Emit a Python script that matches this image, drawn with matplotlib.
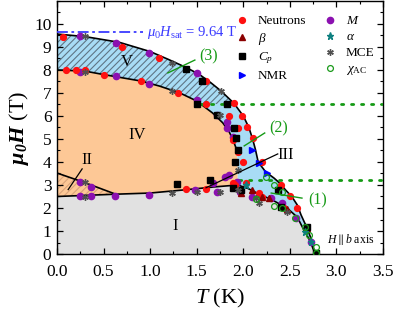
import numpy as np
import matplotlib
matplotlib.use("Agg")
import matplotlib.pyplot as plt
from matplotlib.patches import Polygon, Rectangle

plt.rcParams['font.family'] = ['Liberation Serif', 'DejaVu Serif']
plt.rcParams['mathtext.fontset'] = 'custom'
plt.rcParams['mathtext.rm'] = 'Liberation Serif'
plt.rcParams['mathtext.it'] = 'Liberation Serif:italic'
plt.rcParams['mathtext.bf'] = 'Liberation Serif:bold'
plt.rcParams['mathtext.bfit'] = 'Liberation Serif:bold:italic'
plt.rcParams['hatch.linewidth'] = 0.8

# ---------------- phase boundaries ----------------
sat_T = [0, 0.3, 0.67, 1.0, 1.2, 1.39, 1.53, 1.65, 1.76, 1.9, 2.0, 2.06, 2.1, 2.13, 2.16, 2.24, 2.33, 2.4, 2.45, 2.52, 2.58, 2.62, 2.68, 2.73, 2.77]
sat_H = [9.56, 9.45, 9.2, 8.8, 8.45, 8.1, 7.8, 7.45, 7.09, 6.55, 6.0, 5.5, 5.0, 4.55, 4.0, 3.57, 3.3, 3.05, 2.8, 2.5, 2.13, 1.7, 1.17, 0.65, 0.0]

inner_T = [0, 0.3, 0.5, 0.9, 1.1, 1.32, 1.5, 1.67, 1.78, 1.85, 1.89, 1.93, 1.94, 1.94]
inner_H = [8.0, 7.95, 7.8, 7.52, 7.3, 7.0, 6.65, 6.13, 5.7, 5.3, 4.96, 4.52, 4.0, 3.05]

low_T = [0, 0.63, 1.0, 1.4, 1.7, 1.94, 2.05, 2.17, 2.31, 2.47, 2.58, 2.65, 2.72, 2.77]
low_H = [2.5, 2.6, 2.65, 2.8, 2.92, 3.0, 2.85, 2.6, 2.35, 2.0, 1.6, 1.05, 0.55, 0.0]

ii_T = [0, 0.3, 0.63]
ii_H = [3.52, 3.1, 2.6]

H_sat = 9.64
hatch_level = 6.5
dotted_levels = [6.5, 3.2]
dotted_start = [1.55, 1.95]

# ---------------- data points ----------------
neut_T = [0.06, 0.7, 1.09, 1.3, 0.1, 0.2, 0.3, 0.5, 0.9, 1.6, 1.6, 1.9, 1.99, 1.85, 1.94, 2.04, 1.89, 2.1, 1.94, 2.0, 2.2,
          1.89, 1.91, 2.41, 2.5, 2.44, 1.39, 1.6, 2.17, 2.58, 2.2, 2.03]
neut_H = [9.43, 9.0, 8.5, 7.0, 8.0, 8.0, 8.0, 7.78, 7.52, 7.52, 6.5, 6.55, 6.0, 6.0, 5.48, 5.53, 4.96, 5.04, 4.44, 4.0, 4.0,
          3.08, 3.0, 3.0, 2.52, 2.0, 2.82, 2.83, 2.65, 2.0, 2.48, 3.1]

beta_T = [1.98, 2.09, 2.2, 2.28, 2.47, 2.68]
beta_H = [2.65, 2.78, 2.48, 2.43, 1.96, 1.13]

cp_T = [1.39, 1.56, 1.5, 1.82, 1.72, 1.9, 1.92, 1.94, 1.91, 1.64, 1.89, 1.98, 1.29, 2.37, 2.41, 2.68, 2.78]
cp_H = [8.04, 7.52, 6.52, 6.52, 6.04, 5.48, 5.04, 4.52, 4.0, 3.22, 2.87, 2.78, 3.04, 2.78, 2.04, 1.17, 0.04]

nmr_T = [2.09, 2.17, 2.25]
nmr_H = [4.52, 3.96, 3.52]

m_T = [0.25, 0.63, 0.99, 1.5, 0.25, 0.63, 0.99, 1.5, 1.72, 1.82, 1.83, 1.89, 0.25, 0.37, 0.25, 0.37, 0.62, 0.99,
       1.48, 1.67, 1.72, 1.8, 1.85, 1.93, 1.96, 2.09, 2.3, 2.42, 2.57, 2.73]
m_H = [9.48, 9.17, 8.74, 7.87, 7.9, 7.75, 7.4, 6.7, 6.04, 5.75, 5.48, 5.1, 3.13, 2.9, 2.52, 2.52, 2.52, 2.57,
       2.78, 3.08, 2.7, 3.35, 3.43, 3.13, 2.7, 2.48, 2.43, 2.2, 1.57, 0.52]

alpha_T = [2.03, 2.66, 2.73]
alpha_H = [3.0, 0.96, 0.52]

mce_T = [0.3, 0.3, 1.24, 1.24, 1.76, 1.75, 0.3, 0.3, 1.24, 1.5, 1.75, 1.94, 1.94, 2.17, 2.14, 2.47]
mce_H = [9.48, 7.9, 8.3, 7.09, 7.09, 6.04, 3.13, 2.48, 2.65, 2.7, 2.7, 2.78, 3.65, 2.2, 2.43, 1.83]

chi_T = [2.24, 2.33, 2.42, 2.14, 2.33, 2.42, 2.55, 2.66, 2.71, 2.78, 2.78]
chi_H = [3.35, 3.0, 2.7, 2.39, 2.09, 2.0, 1.57, 1.17, 0.83, 0.3, 0.04]

# ---------------- figure ----------------
fig = plt.figure(figsize=(3.95, 3.10), dpi=100)
ax = fig.add_axes([0.1443, 0.1806, 0.8253, 0.8164])
ax.set_xlim(0, 3.5)
ax.set_ylim(0, 11)

c_gray = '#e1e1e1'
c_orange = '#fdc896'
c_blue = '#a8dcf5'

# region I
polyI = list(zip(low_T, low_H)) + [(low_T[-1], 0), (0, 0)]
ax.add_patch(Polygon(polyI, closed=True, facecolor=c_gray, edgecolor='none', zorder=0))
# region IV (incl. II)
polyIV = list(zip(low_T, low_H))[:6] + list(zip(inner_T, inner_H))[::-1]
ax.add_patch(Polygon(polyIV, closed=True, facecolor=c_orange, edgecolor='none', zorder=0))
# blue region (III + V)
polyB = list(zip(sat_T, sat_H)) + list(zip(low_T, low_H))[::-1][:-5] + list(zip(inner_T, inner_H))[::-1]
ax.add_patch(Polygon(polyB, closed=True, facecolor=c_blue, edgecolor='none', zorder=0))
# hatch V
hV = Polygon(polyB, closed=True, facecolor='none', edgecolor='#5f7585', lw=0, hatch='/////', zorder=1)
ax.add_patch(hV)
clipR = Rectangle((0, hatch_level), 3.5, 11 - hatch_level, transform=ax.transData, visible=False)
ax.add_patch(clipR)
hV.set_clip_path(clipR)
# hatch II
polyII = list(zip(ii_T, ii_H)) + [(low_T[1], low_H[1]), (low_T[0], low_H[0])]
ax.add_patch(Polygon(polyII, closed=True, facecolor='none', edgecolor='#d9a37a', lw=0, hatch='/////', zorder=1))

# boundary lines
lk = dict(color='black', lw=1.2, zorder=3)
ax.plot(sat_T, sat_H, **lk)
ax.plot(inner_T[:12], inner_H[:12], **lk)
ax.plot(low_T, low_H, **lk)
ax.plot(ii_T, ii_H, **lk)

# saturation line
ax.plot([0, 0.92], [H_sat, H_sat], color='#3a3aff', lw=1.3, ls=(0, (6, 2, 1.5, 2)), zorder=3)
ax.text(0.97, H_sat, r'$\mu_0H_{\rm sat}$ = 9.64 T', color='#3a3aff', fontsize=10.5, va='center', ha='left', zorder=5)

# green dotted lines
for lev, st in zip(dotted_levels, dotted_start):
    ax.plot([st, 3.5], [lev, lev], color='#159a15', lw=2.0, ls=(0, (0.8, 2.8)), dash_capstyle='round', zorder=4)

# markers
ms = 4.2
ax.plot(neut_T, neut_H, 'o', color='#ff1010', ms=ms, ls='none', zorder=6, label='Neutrons')
ax.plot(beta_T, beta_H, '^', color='#8b0000', ms=ms, ls='none', zorder=6, label=r'$\beta$')
ax.plot(cp_T, cp_H, 's', color='black', ms=ms - 0.3, ls='none', zorder=6, label=r'$C_p$')
ax.plot(nmr_T, nmr_H, '>', color='#0000ff', ms=ms, ls='none', zorder=6, label='NMR')
ax.plot(m_T, m_H, 'o', color='#8b10b0', ms=ms + 0.3, ls='none', zorder=5, label=r'$M$')
ax.plot(alpha_T, alpha_H, '*', color='#0e8080', ms=ms + 1, ls='none', zorder=6, label=r'$\alpha$')
ax.plot(mce_T, mce_H, marker=(6, 2, 0), color='#505050', ms=ms + 0.5, mew=1.0, ls='none', zorder=6, label='MCE')
ax.plot(chi_T, chi_H, 'o', mfc='none', mec='#1a9a1a', mew=0.9, ms=ms, ls='none', zorder=6, label=r'$\chi_{\rm AC}$')

leg = ax.legend(ncol=2, loc='upper left', bbox_to_anchor=(0.523, 0.975), frameon=False, fontsize=9.5,
                handlelength=1.0, handletextpad=0.7, columnspacing=1.3, labelspacing=0.28, borderaxespad=0.2)

# region labels
tk = dict(fontsize=12, ha='center', va='center', zorder=7)
ax.text(0.75, 8.35, 'V', **tk)
ax.text(0.86, 5.17, 'IV', **tk)
ax.text(0.32, 4.1, 'II', **tk)
ax.text(1.27, 1.2, 'I', **tk)
ax.text(2.46, 4.3, 'III', **tk)

# pointer lines
ax.plot([0.12, 0.27], [2.8, 3.7], color='black', lw=0.9, zorder=7)
ax.plot([1.6, 2.37], [2.88, 4.35], color='black', lw=0.9, zorder=7)
gk = dict(color='#159a15', lw=1.0, zorder=7)
ax.plot([1.19, 1.48], [7.87, 8.43], **gk)
ax.plot([2.01, 2.23], [4.7, 5.26], **gk)
ax.plot([2.3, 2.63], [2.65, 2.43], **gk)
gt = dict(color='#159a15', fontsize=11.5, ha='center', va='center', zorder=7)
ax.text(1.63, 8.57, '(3)', **gt)
ax.text(2.38, 5.47, '(2)', **gt)
ax.text(2.8, 2.35, '(1)', **gt)

ax.text(3.41, 0.62, r'$H \parallel b$ axis', fontsize=8.5, ha='right', va='center', zorder=7)

# ticks
ax.set_xticks(np.arange(0, 3.51, 0.5))
ax.set_xticks(np.arange(0, 3.51, 0.25), minor=True)
ax.set_yticks(np.arange(0, 10.1, 1))
ax.set_yticks(np.arange(0, 11.01, 0.5), minor=True)
ax.tick_params(which='both', direction='in', top=True, right=True, labelsize=12.5)
ax.tick_params(axis='x', which='major', pad=7)
ax.tick_params(axis='y', which='major', pad=4)
ax.tick_params(which='major', length=4, width=0.9)
ax.tick_params(which='minor', length=2.5, width=0.8)
ax.xaxis.set_major_formatter(matplotlib.ticker.FormatStrFormatter('%.1f'))
for s in ax.spines.values():
    s.set_linewidth(1.0)

ax.set_xlabel(r'$T$ (K)', fontsize=16, labelpad=5)
ax.set_ylabel(r'$\mathbfit{\mu_0H}$ (T)', fontsize=16, labelpad=2)

fig.savefig('out.png', dpi=100)
